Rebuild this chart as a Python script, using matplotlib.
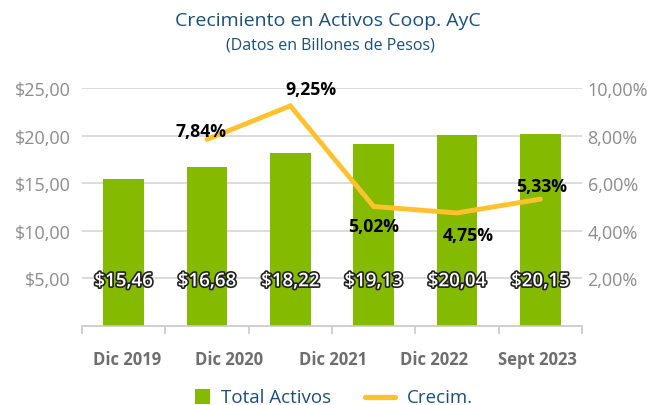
import numpy as np
import matplotlib.pyplot as plt
import matplotlib.patheffects as pe
from matplotlib.ticker import FuncFormatter, FixedLocator
from matplotlib.lines import Line2D
from matplotlib.patches import Rectangle

# datos
periodos = ["Dic 2019", "Dic 2020", "Dic 2021", "Dic 2022", "Sept 2023"]
activos = [15.46, 16.68, 18.22, 19.13, 20.04, 20.15]
crecim = [np.nan, 7.84, 9.25, 5.02, 4.75, 5.33]
activos_txt = ["$15,46", "$16,68", "$18,22", "$19,13", "$20,04", "$20,15"]
crecim_txt = ["", "7,84%", "9,25%", "5,02%", "4,75%", "5,33%"]
# posiciones de las etiquetas del eje x (desalineadas como en el original)
pos_etiquetas = [0.04, 1.26, 2.51, 3.72, 4.96]

VERDE = "#84BA00"
AMARILLO = "#FFC22E"
AZUL = "#1B4F7A"
GRIS = "#8C8C8C"

plt.rcParams['font.family'] = ['Open Sans', 'DejaVu Sans']

W, H = 659, 406
fig = plt.figure(figsize=(W/100, H/100), dpi=100)
ax = fig.add_axes([82/W, 1-327/H, 500/W, 238/H])
ax2 = ax.twinx()

x = np.arange(len(activos))
ax.bar(x, activos, width=0.49, color=VERDE, zorder=2)
ax.set_xlim(-0.5, len(activos)-0.5)
ax.set_ylim(0, 25)
ax.set_yticks([5, 10, 15, 20, 25])
ax.yaxis.set_major_formatter(FuncFormatter(lambda v, p: ("$%.2f" % v).replace(".", ",")))
ax.grid(axis='y', color='#D9D9D9', linewidth=1.3, zorder=0)
ax.set_axisbelow(True)

for s in ['top', 'right', 'left']:
    ax.spines[s].set_visible(False)
ax.spines['bottom'].set_color('#C8C8C8')
ax.spines['bottom'].set_linewidth(1.2)

ax.xaxis.set_major_locator(FixedLocator(pos_etiquetas))
ax.set_xticklabels(periodos, fontsize=12, fontweight='bold', color='#6E6E6E')
ax.tick_params(axis='x', which='major', length=0, pad=17)
ax.xaxis.set_minor_locator(FixedLocator(np.arange(-0.5, len(activos), 1.0)))
ax.tick_params(axis='x', which='minor', length=6, color='#C8C8C8', width=1.2)
ax.tick_params(axis='y', length=0, labelsize=13, labelcolor=GRIS, pad=8)

# linea de crecimiento
ax2.plot(x, crecim, color=AMARILLO, linewidth=3.5, solid_capstyle='round',
         solid_joinstyle='miter', zorder=3)
ax2.set_ylim(0, 10)
ax2.set_yticks([2, 4, 6, 8, 10])
ax2.yaxis.set_major_formatter(FuncFormatter(lambda v, p: ("%.2f%%" % v).replace(".", ",")))
ax2.tick_params(axis='y', length=0, labelsize=13, labelcolor=GRIS, pad=4)
for s in ['top', 'right', 'left', 'bottom']:
    ax2.spines[s].set_visible(False)

# etiquetas de valores
for i, t in enumerate(activos_txt):
    ax.text(i, 4.7, t, ha='center', va='center', fontsize=13.5, fontweight='semibold',
            color='white', zorder=5,
            path_effects=[pe.withStroke(linewidth=2.4, foreground='#222222')])

desp = {1: (-0.07, 0.35), 2: (0.25, 0.71), 3: (0.0, -0.82), 4: (0.14, -0.93), 5: (0.01, 0.55)}
for i, t in enumerate(crecim_txt):
    if not t:
        continue
    dx, dy = desp[i]
    ax2.text(i + dx, crecim[i] + dy, t, ha='center', va='center', fontsize=12.7,
             fontweight='bold', color='black', zorder=5)

# titulo
fig.text(328/W, 1-21/H, "Crecimiento en Activos Coop. AyC", ha='center', va='center',
         fontsize=14, color=AZUL)
fig.text(330/W, 1-46/H, "(Datos en Billones de Pesos)", ha='center', va='center',
         fontsize=11.5, color=AZUL)

# leyenda (dibujada a mano para igualar el espaciado)
fig.patches.append(Rectangle((195/W, 1-405/H), 15/W, 15/H, transform=fig.transFigure,
                             facecolor=VERDE, edgecolor='none'))
fig.text(221/W, 1-398/H, "Total Activos", ha='left', va='center', fontsize=13.5, color=AZUL)
fig.lines.append(Line2D([365/W, 395/W], [1-398/H, 1-398/H], transform=fig.transFigure,
                        color=AMARILLO, linewidth=3.8, solid_capstyle='round'))
fig.text(407/W, 1-398/H, "Crecim.", ha='left', va='center', fontsize=13.5, color=AZUL)

fig.savefig("out.png", dpi=100)
